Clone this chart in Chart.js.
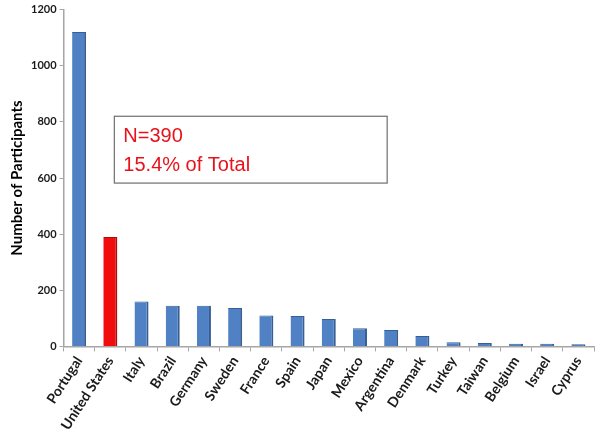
<!DOCTYPE html>
<html>
<head>
<meta charset="utf-8">
<script src="https://cdn.jsdelivr.net/npm/chart.js@4/dist/chart.umd.min.js"></script>
<style>
  body { margin: 0; background: #fff; }
  #wrap { width: 602px; height: 435px; }
</style>
</head>
<body>
<div id="wrap"><canvas id="participantsChart" width="602" height="435"></canvas></div>
<script>
const countries = ['Portugal', 'United States', 'Italy', 'Brazil', 'Germany', 'Sweden', 'France',
    'Spain', 'Japan', 'Mexico', 'Argentina', 'Denmark', 'Turkey', 'Taiwan', 'Belgium', 'Israel', 'Cyprus'];
const participants = [1120, 390, 160, 145, 145, 137, 110, 108, 98, 65, 59, 37, 15, 12, 10, 10, 8];
const highlighted = 'United States';
const noteLines = ['N=390', '15.4% of Total'];

// Text box with the note about the highlighted country
const noteBox = {
    id: 'noteBox',
    afterDraw(chart) {
        const { ctx, scales: { x, y } } = chart;
        const left = x.getPixelForValue(1) + 4;
        const right = x.getPixelForValue(10) - 4;
        const top = y.getPixelForValue(820);
        const bottom = y.getPixelForValue(582);
        ctx.save();
        ctx.fillStyle = '#fff';
        ctx.fillRect(left, top, right - left, bottom - top);
        ctx.strokeStyle = '#6e6e6e';
        ctx.lineWidth = 1.2;
        ctx.strokeRect(left, top, right - left, bottom - top);
        ctx.fillStyle = '#e8121b';
        ctx.font = '20px "Liberation Sans", Arial, sans-serif';
        ctx.textBaseline = 'alphabetic';
        ctx.fillText(noteLines[0], left + 9, top + 26);
        ctx.fillText(noteLines[1], left + 9, top + 55);
        ctx.restore();
    }
};

const ctx = document.getElementById('participantsChart').getContext('2d');
new Chart(ctx, {
    type: 'bar',
    data: {
        labels: countries,
        datasets: [{
            data: participants,
            backgroundColor: countries.map(c => c === highlighted ? '#f10d0d' : '#4f81c4'),
            borderColor: countries.map(c => c === highlighted ? '#b00a0a' : '#375f94'),
            borderWidth: { right: 2, top: 1, left: 0, bottom: 0 },
            borderSkipped: 'bottom',
            barPercentage: 0.45,
            categoryPercentage: 1
        }]
    },
    options: {
        responsive: false,
        animation: false,
        layout: { padding: { top: 3, right: 8, left: 8, bottom: 0 } },
        plugins: {
            legend: { display: false },
            tooltip: { enabled: false }
        },
        scales: {
            x: {
                grid: {
                    display: true,
                    offset: true,
                    drawOnChartArea: false,
                    drawTicks: true,
                    tickLength: 5,
                    color: '#a6a6a6'
                },
                border: { color: '#a6a6a6', width: 1.5 },
                ticks: {
                    maxRotation: 57,
                    minRotation: 57,
                    autoSkip: false,
                    padding: 2,
                    color: '#1a1a1a',
                    font: { family: 'Lato, "Open Sans", sans-serif', size: 14, weight: 'bold' }
                }
            },
            y: {
                min: 0,
                max: 1200,
                ticks: {
                    stepSize: 200,
                    color: '#1a1a1a',
                    padding: 3,
                    callback: v => v,
                    font: { family: 'Lato, "Open Sans", sans-serif', size: 11, weight: 'bold' }
                },
                grid: {
                    display: true,
                    drawOnChartArea: false,
                    tickLength: 4,
                    color: '#a6a6a6'
                },
                border: { color: '#a6a6a6', width: 1.5 },
                title: {
                    display: true,
                    text: 'Number of Participants',
                    color: '#000',
                    padding: { top: 0, bottom: 2 },
                    font: { family: 'Lato, "Open Sans", sans-serif', size: 15, weight: 'bold' }
                }
            }
        }
    },
    plugins: [noteBox]
});
</script>
</body>
</html>
